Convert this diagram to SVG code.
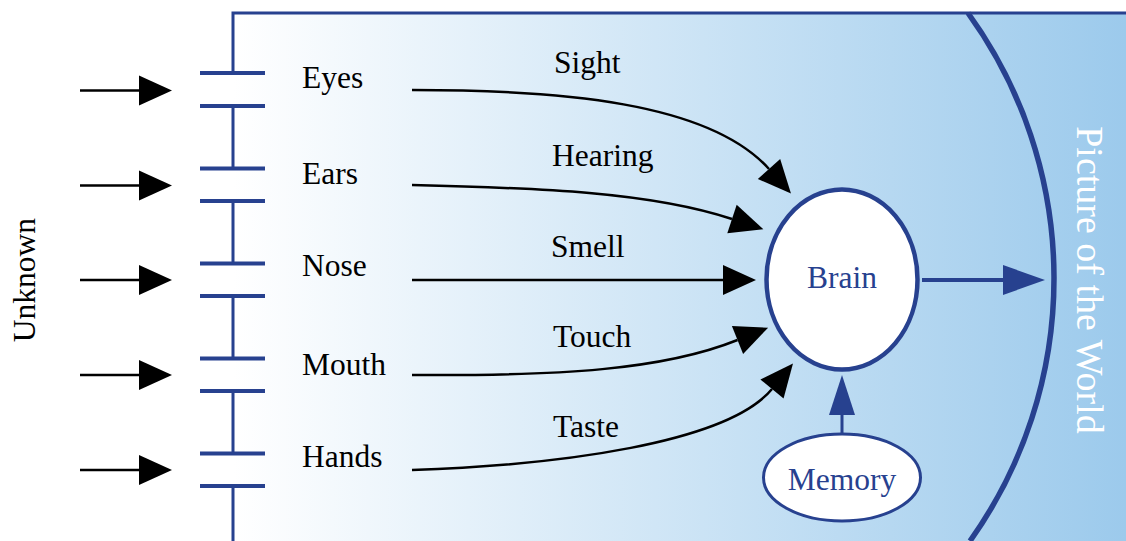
<svg xmlns="http://www.w3.org/2000/svg" width="1126" height="541" viewBox="0 0 1126 541">
<style>
.t{font-family:"Liberation Serif","Times New Roman",serif;font-size:31.5px;fill:#000}
.tb{font-family:"Liberation Serif","Times New Roman",serif;font-size:31.5px;fill:#27418f;text-anchor:middle}
.plate{stroke:#27418f;stroke-width:4;fill:none}
.wire{stroke:#27418f;stroke-width:3;fill:none}
.edge{stroke:#000;stroke-width:2.5;fill:none;marker-end:url(#ah)}
</style>
<defs>
<linearGradient id="bg" gradientUnits="userSpaceOnUse" x1="233" y1="0" x2="1126" y2="0">
<stop offset="0" stop-color="#ffffff"/>
<stop offset="1" stop-color="#9ccaec"/>
</linearGradient>
<marker id="ah" markerUnits="userSpaceOnUse" markerWidth="33" markerHeight="30" viewBox="0 0 33 30" refX="0" refY="15" orient="auto" overflow="visible">
<path d="M0,0 L33,15 L0,30 Z" fill="#000"/>
</marker>
</defs>
<rect x="233" y="13" width="893" height="528" fill="url(#bg)"/>
<g id="frame">
<path class="wire" d="M233,73 V13 H1126"/>
<path class="wire" d="M233,106 V168 M233,201 V263 M233,296 V358 M233,391 V453 M233,486 V541"/>
</g>
<g id="world">
<path d="M968,13 A452.5,452.5 0 0 1 970,541" stroke="#27418f" stroke-width="5.5" fill="none"/>
<text transform="translate(1077,280) rotate(90)" font-family="Liberation Serif, Times New Roman, serif" font-size="38" fill="#ffffff" text-anchor="middle">Picture of the World</text>
</g>
<g id="unknown">
<text transform="translate(35,280) rotate(-90)" class="t" text-anchor="middle">Unknown</text>
</g>
<g id="eyes">
<path class="plate" d="M200,73 H265 M200,106 H265"/>
<text class="t" x="302" y="88">Eyes</text>
</g>
<g id="ears">
<path class="plate" d="M200,168.5 H265 M200,201 H265"/>
<text class="t" x="302" y="184">Ears</text>
</g>
<g id="nose">
<path class="plate" d="M200,263.5 H265 M200,296 H265"/>
<text class="t" x="302" y="276">Nose</text>
</g>
<g id="mouth">
<path class="plate" d="M200,358.5 H265 M200,391 H265"/>
<text class="t" x="302" y="375">Mouth</text>
</g>
<g id="hands">
<path class="plate" d="M200,453.5 H265 M200,486 H265"/>
<text class="t" x="302" y="467">Hands</text>
</g>
<g id="brain">
<ellipse cx="842" cy="279.5" rx="75.5" ry="90" fill="#ffffff" stroke="#27418f" stroke-width="4.5"/>
<text class="tb" x="842" y="288">Brain</text>
</g>
<g id="memory">
<ellipse cx="842" cy="477.5" rx="78.5" ry="43.5" fill="#ffffff" stroke="#27418f" stroke-width="3"/>
<text class="tb" x="842" y="490">Memory</text>
</g>
<g id="connectors">
<path class="edge" d="M80,90.5 H139"/>
<path class="edge" d="M80,185.5 H139"/>
<path class="edge" d="M80,280 H139"/>
<path class="edge" d="M80,375 H139"/>
<path class="edge" d="M80,470 H139"/>
<path class="edge" d="M412,90 C560,90 709,102 769,169"/>
<path class="edge" d="M412,185 C540,188 650,192 732,219"/>
<path class="edge" d="M412,280 H723"/>
<path class="edge" d="M412,375 C560,376 663,370 737.5,340"/>
<path class="edge" d="M412,470 C560,465 727.5,443 772,389"/>
<path d="M922,280 H1004" stroke="#27418f" stroke-width="4"/>
<path d="M1003,265 L1045,280 L1003,295 Z" fill="#27418f"/>
<path d="M842,434 V414" stroke="#27418f" stroke-width="3"/>
<path d="M829,415 L842,375 L855,415 Z" fill="#27418f"/>
<text class="t" x="554" y="73">Sight</text>
<text class="t" x="552" y="166">Hearing</text>
<text class="t" x="551" y="257">Smell</text>
<text class="t" x="553" y="347">Touch</text>
<text class="t" x="553" y="437">Taste</text>
</g>
</svg>
